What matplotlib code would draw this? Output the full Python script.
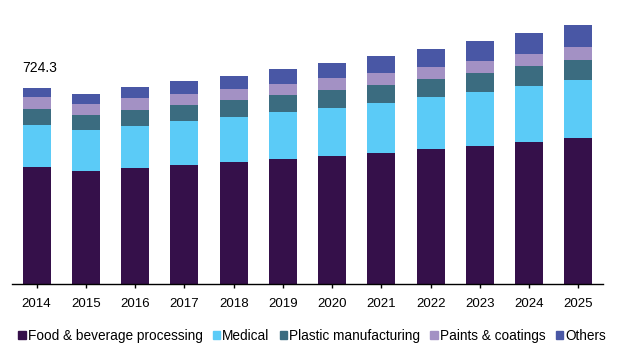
import numpy as np
import matplotlib
matplotlib.use("Agg")
import matplotlib.pyplot as plt
from matplotlib.patches import Patch

plt.rcParams['font.family'] = ['Liberation Sans', 'DejaVu Sans']

years = ['2014', '2015', '2016', '2017', '2018', '2019',
         '2020', '2021', '2022', '2023', '2024', '2025']

food = [432.3, 417.6, 428.7, 439.7, 450.8, 461.9, 473.0, 484.1, 498.9, 509.9, 524.7, 539.5]
medical = [155.2, 151.5, 155.2, 162.6, 166.3, 173.7, 177.4, 184.8, 192.2, 199.5, 206.9, 214.3]
plastic = [59.1, 55.4, 59.1, 59.1, 62.8, 62.8, 66.5, 66.5, 66.5, 70.2, 73.9, 73.9]
paints = [44.3, 40.6, 44.3, 40.6, 40.6, 40.6, 44.3, 44.3, 44.3, 44.3, 44.3, 48.0]
others = [33.4, 37.0, 40.6, 48.0, 48.0, 55.4, 55.4, 62.8, 66.5, 73.9, 77.6, 81.3]

series = [
    ('Food & beverage processing', food, '#35104a'),
    ('Medical', medical, '#5bcbf7'),
    ('Plastic manufacturing', plastic, '#3b6c80'),
    ('Paints & coatings', paints, '#a391c4'),
    ('Others', others, '#4957a5'),
]

fig = plt.figure(figsize=(6.28, 3.57), dpi=100)
ax = fig.add_axes([12 / 628, 73 / 357, 591 / 628, 274 / 357])

x = np.arange(len(years))
bottom = np.zeros(len(years))
for name, vals, col in series:
    ax.bar(x, vals, 0.57, bottom=bottom, color=col, label=name)
    bottom += np.array(vals)

# only the first bar carries a value label
ax.annotate(f'{bottom[0]:.1f}', (x[0] - 0.285, bottom[0]), xytext=(0, 9),
            textcoords='offset points', ha='left', va='bottom', fontsize=10)

ax.set_xlim(-0.5, 11.5)
ax.set_ylim(0, 274 * 724.3 / 196)
ax.set_xticks(x)
ax.set_xticklabels(years, fontsize=9.5)
ax.tick_params(axis='x', length=3, width=1, pad=7)
ax.set_yticks([])
for s in ['top', 'right', 'left']:
    ax.spines[s].set_visible(False)
ax.spines['bottom'].set_linewidth(1)

handles = [Patch(color=c, label=n) for n, _, c in series]
fig.legend(handles=handles, loc='center', bbox_to_anchor=(0.497, 0.06), ncol=5,
           frameon=False, fontsize=9.8, handlelength=0.55, handleheight=0.55,
           handletextpad=0.15, columnspacing=0.75, borderaxespad=0)

fig.savefig('out.png', dpi=100)
